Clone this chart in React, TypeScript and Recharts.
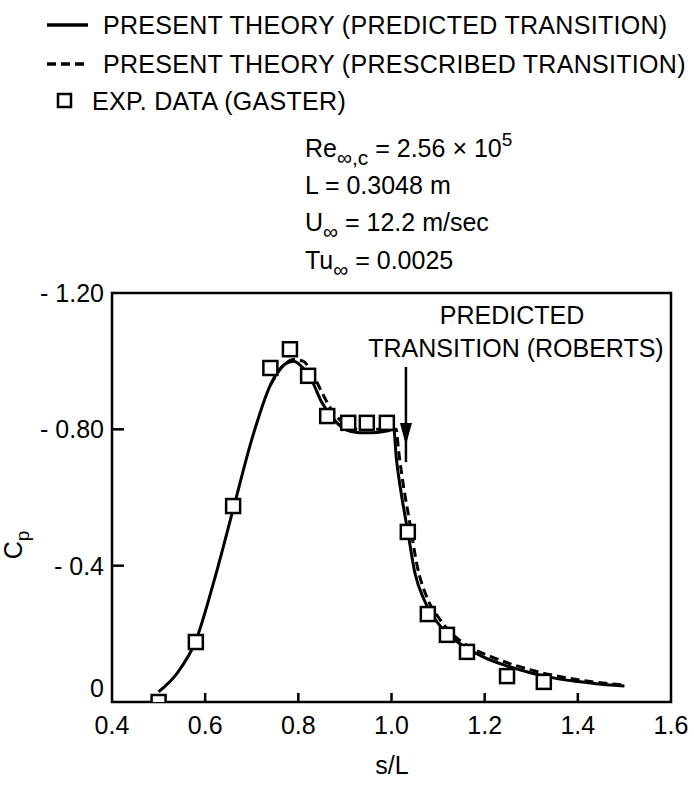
import React from "react";
import {
  ComposedChart,
  Line,
  Scatter,
  XAxis,
  YAxis,
  ReferenceArea,
  ReferenceLine,
  ReferenceDot,
} from "recharts";

// present theory, predicted transition (solid)
const predictedS = [
  0.5, 0.54, 0.58, 0.62, 0.66, 0.7, 0.74, 0.77, 0.79, 0.81, 0.83, 0.85,
  0.87, 0.9, 0.93, 0.96, 0.99, 1.005, 1.01, 1.02, 1.035, 1.05, 1.07, 1.09,
  1.12, 1.16, 1.2, 1.25, 1.3, 1.35, 1.4, 1.45, 1.5,
];
const predictedCp = [
  -0.03, -0.085, -0.18, -0.36, -0.565, -0.77, -0.93, -0.99, -1.0, -0.98,
  -0.94, -0.88, -0.84, -0.8, -0.79, -0.79, -0.795, -0.8, -0.72, -0.62, -0.5,
  -0.38, -0.3, -0.25, -0.2, -0.16, -0.13, -0.105, -0.085, -0.07, -0.06,
  -0.052, -0.047,
];

// present theory, prescribed transition (dashed)
const prescribedS = [
  0.74, 0.77, 0.79, 0.81, 0.83, 0.85, 0.87, 0.9, 0.93, 0.96, 0.99, 1.01,
  1.015, 1.025, 1.04, 1.055, 1.075, 1.1, 1.13, 1.17, 1.21, 1.26, 1.31, 1.36,
  1.41, 1.46, 1.5,
];
const prescribedCp = [
  -0.93, -0.99, -1.005, -1.0, -0.965, -0.91, -0.86, -0.815, -0.8, -0.8, -0.8,
  -0.8, -0.74, -0.64, -0.52, -0.4, -0.31, -0.25, -0.2, -0.16, -0.135, -0.11,
  -0.09, -0.075, -0.063, -0.055, -0.05,
];

// experimental data (Gaster)
const gasterS = [
  0.5, 0.58, 0.66, 0.74, 0.782, 0.821, 0.862, 0.907, 0.947, 0.99, 1.035,
  1.078, 1.119, 1.162, 1.248, 1.327,
];
const gasterCp = [
  0.0, -0.176, -0.575, -0.98, -1.035, -0.957, -0.839, -0.819, -0.819, -0.819,
  -0.499, -0.258, -0.197, -0.147, -0.076, -0.059,
];

const xTicks = [0.4, 0.6, 0.8, 1.0, 1.2, 1.4, 1.6];
const yTicks = [-1.2, -0.8, -0.4, 0];
const yTickLabels = ["- 1.20", "- 0.80", "- 0.4", "0"];

// predicted transition arrow (Roberts)
const arrowS = 1.031;
const arrowTopCp = -0.983;
const arrowTipCp = -0.754;

const pair = (xs: number[], ys: number[]) => xs.map((x, i) => ({ x, y: ys[i] }));
const predicted = pair(predictedS, predictedCp);
const prescribed = pair(prescribedS, prescribedCp);
const gaster = pair(gasterS, gasterCp);

const FONT = "'Liberation Sans', Arial, sans-serif";

const XTick = (props: any) => {
  const { x, y, payload } = props;
  const v = payload.value;
  const inner = v > 0.45 && v < 1.55;
  return (
    <g>
      {inner && <line x1={x} y1={y} x2={x} y2={y - 9} stroke="#000" strokeWidth={2.5} />}
      <text x={x} y={y + 23} textAnchor="middle" dominantBaseline="central" fontSize={25} fontFamily={FONT} fill="#000">
        {v.toFixed(1)}
      </text>
    </g>
  );
};

const YTick = (props: any) => {
  const { x, y, payload, index } = props;
  const v = payload.value;
  const inner = v > -1.15 && v < -0.05;
  return (
    <g>
      {inner && <line x1={x} y1={y} x2={x + 12} y2={y} stroke="#000" strokeWidth={2.5} />}
      <text x={x - 8} y={v === 0 ? y - 14 : y} textAnchor="end" dominantBaseline="central" fontSize={25} fontFamily={FONT} fill="#000">
        {yTickLabels[index]}
      </text>
    </g>
  );
};

const Square = (props: any) => {
  const { cx, cy } = props;
  return <rect x={cx - 7} y={cy - 7} width={14} height={14} fill="#fff" stroke="#000" strokeWidth={2.5} />;
};

const ArrowHead = (props: any) => {
  const { cx, cy } = props;
  return <polygon points={`${cx - 6},${cy - 22} ${cx + 6},${cy - 22} ${cx},${cy}`} fill="#000" />;
};

export default function App() {
  const t = { fontFamily: FONT, fontSize: 25, fill: "#000" } as const;
  return (
    <div style={{ position: "absolute", left: 0, top: 0, width: 694, height: 786, background: "#fff" }}>
      <ComposedChart
        width={694}
        height={786}
        margin={{ top: 293, right: 23, bottom: 24, left: 32 }}
      >
        <XAxis
          dataKey="x"
          type="number"
          domain={[0.4, 1.6]}
          ticks={xTicks}
          allowDataOverflow
          axisLine={false}
          tickLine={false}
          tickSize={0}
          tickMargin={0}
          height={60}
          tick={<XTick />}
          interval={0}
        />
        <YAxis
          dataKey="y"
          type="number"
          domain={[-1.2, 0]}
          reversed
          ticks={yTicks}
          allowDataOverflow
          axisLine={false}
          tickLine={false}
          tickSize={0}
          tickMargin={0}
          width={80}
          tick={<YTick />}
          interval={0}
        />
        <ReferenceArea x1={0.4} x2={1.6} y1={-1.2} y2={0} fill="none" stroke="#000" strokeWidth={2.5} />
        <ReferenceLine
          segment={[
            { x: arrowS, y: arrowTopCp },
            { x: arrowS, y: arrowTipCp + 0.05 },
          ]}
          stroke="#000"
          strokeWidth={2.5}
        />
        <ReferenceDot x={arrowS} y={arrowTipCp} r={1} shape={<ArrowHead />} />
        <Line
          data={prescribed}
          dataKey="y"
          type="monotone"
          stroke="#000"
          strokeWidth={3}
          strokeDasharray="9 5"
          dot={false}
          isAnimationActive={false}
        />
        <Line
          data={predicted}
          dataKey="y"
          type="monotone"
          stroke="#000"
          strokeWidth={3}
          dot={false}
          isAnimationActive={false}
        />
        <Scatter data={gaster} dataKey="y" shape={<Square />} isAnimationActive={false} />
      </ComposedChart>

      <svg width={694} height={786} style={{ position: "absolute", left: 0, top: 0, pointerEvents: "none" }}>
        {/* legend */}
        <line x1={47} y1={25} x2={88} y2={25} stroke="#000" strokeWidth={3.5} />
        <text x={103} y={25} dominantBaseline="central" letterSpacing={0.3} {...t}>PRESENT THEORY (PREDICTED TRANSITION)</text>
        <line x1={47} y1={64} x2={88} y2={64} stroke="#000" strokeWidth={3.5} strokeDasharray="9 5" />
        <text x={103} y={64} dominantBaseline="central" letterSpacing={0.3} {...t}>PRESENT THEORY (PRESCRIBED TRANSITION)</text>
        <rect x={58} y={94} width={13} height={13} fill="#fff" stroke="#000" strokeWidth={2.5} />
        <text x={92} y={101} dominantBaseline="central" letterSpacing={0.3} {...t}>EXP. DATA (GASTER)</text>

        {/* flow parameters */}
        <text x={305} y={157} {...t}>
          Re<tspan fontSize={21} dy={8}>∞,c</tspan>
          <tspan dy={-8}> = 2.56 × 10</tspan>
          <tspan fontSize={19} dy={-11}>5</tspan>
        </text>
        <text x={305} y={194} {...t}>L = 0.3048 m</text>
        <text x={305} y={231} {...t}>
          U<tspan fontSize={21} dy={8}>∞</tspan>
          <tspan dy={-8}> = 12.2 m/sec</tspan>
        </text>
        <text x={305} y={269} {...t}>
          Tu<tspan fontSize={21} dy={8}>∞</tspan>
          <tspan dy={-8}> = 0.0025</tspan>
        </text>

        {/* annotation */}
        <text x={512} y={315} textAnchor="middle" dominantBaseline="central" {...t}>PREDICTED</text>
        <text x={516} y={348} textAnchor="middle" dominantBaseline="central" {...t}>TRANSITION (ROBERTS)</text>

        {/* axis titles */}
        <text x={392} y={765} textAnchor="middle" dominantBaseline="central" {...t}>s/L</text>
        <text transform="translate(22,545) rotate(-90)" textAnchor="middle" {...t}>
          C<tspan fontSize={19} dy={7}>p</tspan>
        </text>
      </svg>
    </div>
  );
}
